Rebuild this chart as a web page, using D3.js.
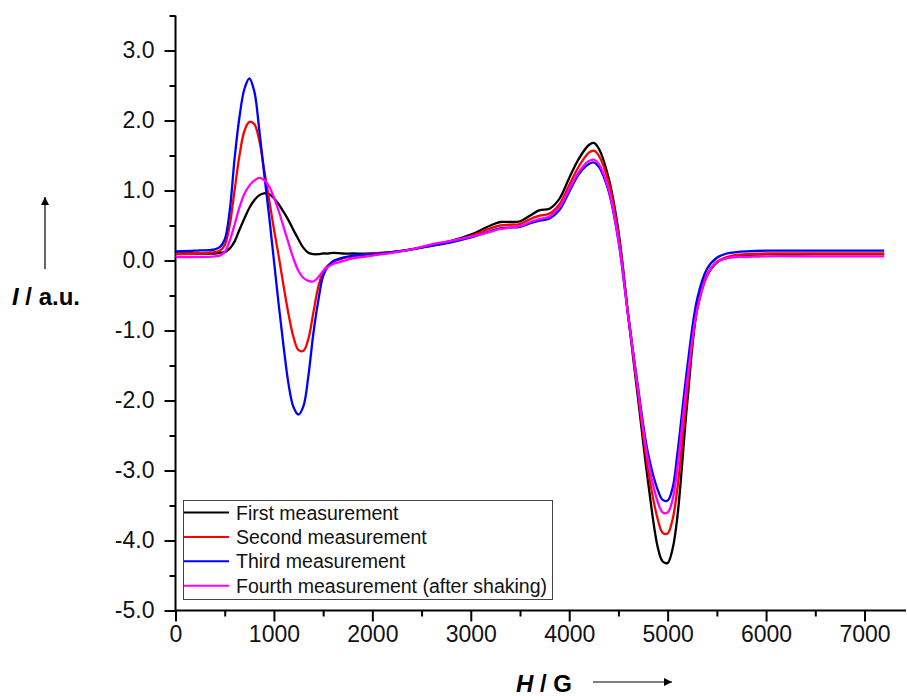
<!DOCTYPE html>
<html><head><meta charset="utf-8">
<script src="https://cdn.jsdelivr.net/npm/d3@7"></script>
<style>body{margin:0;background:#fff}svg{display:block}text{font-family:Arial,"Liberation Sans",sans-serif}</style>
</head><body><svg id="c" width="907" height="696"></svg>
<script>
const fieldH = [0,200,400,450,500,550,600,650,700,750,800,850,900,950,1000,1050,1100,1150,1200,1250,1300,1350,1400,1450,1500,1550,1600,1700,1800,2000,2200,2400,2600,2800,3000,3200,3300,3400,3500,3600,3700,3800,3900,4000,4100,4200,4250,4300,4400,4500,4600,4700,4800,4900,4950,5000,5050,5100,5200,5300,5400,5500,5600,5700,5800,6000,6500,7000,7200];
const firstMeas = [0.10,0.10,0.10,0.11,0.12,0.17,0.27,0.44,0.60,0.75,0.86,0.93,0.96,0.95,0.89,0.80,0.69,0.57,0.43,0.30,0.18,0.11,0.09,0.09,0.10,0.10,0.11,0.10,0.10,0.10,0.12,0.16,0.22,0.28,0.37,0.50,0.55,0.55,0.56,0.64,0.72,0.74,0.88,1.18,1.46,1.65,1.68,1.60,1.18,0.42,-0.80,-1.98,-3.15,-4.10,-4.30,-4.32,-4.12,-3.65,-2.02,-0.70,-0.22,-0.03,0.04,0.07,0.08,0.09,0.09,0.09,0.09];
const secondMeas = [0.09,0.10,0.12,0.14,0.22,0.50,1.00,1.50,1.85,1.98,1.95,1.72,1.30,0.88,0.45,0.05,-0.38,-0.78,-1.10,-1.28,-1.29,-1.12,-0.75,-0.38,-0.16,-0.07,-0.02,0.03,0.06,0.10,0.12,0.16,0.21,0.27,0.35,0.46,0.50,0.51,0.52,0.59,0.64,0.67,0.80,1.08,1.35,1.54,1.57,1.50,1.12,0.38,-0.78,-1.90,-2.98,-3.70,-3.89,-3.90,-3.70,-3.25,-1.85,-0.68,-0.20,-0.02,0.05,0.08,0.09,0.10,0.10,0.10,0.10];
const thirdMeas = [0.13,0.14,0.16,0.19,0.30,0.70,1.45,2.05,2.45,2.60,2.42,1.88,1.25,0.65,0.00,-0.65,-1.25,-1.78,-2.10,-2.20,-2.08,-1.65,-1.05,-0.58,-0.22,-0.08,-0.01,0.04,0.07,0.09,0.12,0.16,0.21,0.26,0.33,0.42,0.46,0.47,0.48,0.53,0.57,0.60,0.72,0.98,1.24,1.38,1.40,1.34,0.99,0.28,-0.80,-1.82,-2.75,-3.28,-3.42,-3.43,-3.25,-2.75,-1.52,-0.55,-0.12,0.04,0.10,0.12,0.13,0.14,0.14,0.14,0.14];
const fourthMeas = [0.05,0.05,0.06,0.07,0.12,0.28,0.51,0.76,0.95,1.07,1.14,1.18,1.15,1.06,0.90,0.70,0.47,0.24,0.02,-0.15,-0.25,-0.29,-0.30,-0.24,-0.15,-0.09,-0.05,-0.01,0.03,0.07,0.11,0.16,0.23,0.28,0.34,0.41,0.45,0.47,0.49,0.55,0.59,0.63,0.76,1.02,1.27,1.42,1.44,1.38,1.02,0.30,-0.80,-1.86,-2.85,-3.45,-3.60,-3.60,-3.42,-2.95,-1.70,-0.70,-0.22,-0.02,0.03,0.05,0.05,0.06,0.06,0.06,0.06];
const seriesNames = ["First measurement","Second measurement","Third measurement","Fourth measurement (after shaking)"];
const seriesColors = ["#000000","#ff0000","#0000ff","#ff00ff"];
const xTicks = [0,1000,2000,3000,4000,5000,6000,7000];
const yTicks = [-5,-4,-3,-2,-1,0,1,2,3];

const svg = d3.select("#c");
const x = d3.scaleLinear().domain([0,7000]).range([175.5,864.5]);
const y = d3.scaleLinear().domain([-5,3.5]).range([610.5,15.5]);
const allSeries = [firstMeas,secondMeas,thirdMeas,fourthMeas];

// axes
const ax = svg.append("g").attr("transform","translate(0,610.5)")
  .call(d3.axisBottom(x).tickValues(xTicks).tickFormat(d=>d).tickSize(11).tickSizeOuter(0).tickPadding(4));
ax.select(".domain").remove();
ax.selectAll(".tick line").attr("stroke","#000").attr("stroke-width",2);
ax.selectAll(".tick text").attr("font-size",23).attr("fill","#111");
const axm = svg.append("g").attr("transform","translate(0,610.5)")
  .call(d3.axisBottom(x).tickValues(d3.range(500,7500,1000)).tickFormat("").tickSize(6).tickSizeOuter(0));
axm.select(".domain").remove();
axm.selectAll(".tick line").attr("stroke","#000").attr("stroke-width",2);

const ay = svg.append("g").attr("transform","translate(175.5,0)")
  .call(d3.axisLeft(y).tickValues(yTicks).tickFormat(d=>d.toFixed(1)).tickSize(11).tickSizeOuter(0).tickPadding(10));
ay.select(".domain").remove();
ay.selectAll(".tick line").attr("stroke","#000").attr("stroke-width",2);
ay.selectAll(".tick text").attr("font-size",23).attr("fill","#111");
const aym = svg.append("g").attr("transform","translate(175.5,0)")
  .call(d3.axisLeft(y).tickValues(d3.range(-4.5,3.6,1)).tickFormat("").tickSize(6).tickSizeOuter(0));
aym.select(".domain").remove();
aym.selectAll(".tick line").attr("stroke","#000").attr("stroke-width",2);

svg.append("line").attr("x1",175.5).attr("x2",175.5).attr("y1",y(3.5)).attr("y2",611.5).attr("stroke","#000").attr("stroke-width",2);
svg.append("line").attr("x1",174.5).attr("x2",906).attr("y1",610.5).attr("y2",610.5).attr("stroke","#000").attr("stroke-width",2);

// lines
const line = d3.line().x((d,i)=>x(fieldH[i])).y(d=>y(d)).curve(d3.curveCatmullRom.alpha(0.5));
allSeries.forEach((s,k)=>{
  svg.append("path").datum(s).attr("d",line).attr("fill","none")
    .attr("stroke",seriesColors[k]).attr("stroke-width",2.3).attr("stroke-linejoin","round");
});

// legend
const lg = svg.append("g");
lg.append("rect").attr("x",183.5).attr("y",500.5).attr("width",369).attr("height",99)
  .attr("fill","#fff").attr("stroke","#444").attr("stroke-width",1);
seriesNames.forEach((n,k)=>{
  const yy = 512.5 + k*24.4;
  lg.append("line").attr("x1",184).attr("x2",229).attr("y1",yy).attr("y2",yy)
    .attr("stroke",seriesColors[k]).attr("stroke-width",2);
  lg.append("text").attr("x",236).attr("y",yy+7).attr("font-size",19.5).attr("fill","#111").text(n);
});

// axis titles
const yt = svg.append("text").attr("x",12).attr("y",305).attr("font-size",24).attr("font-weight","bold").attr("fill","#000");
yt.append("tspan").attr("font-style","italic").text("I");
yt.append("tspan").text(" / a.u.");
const defs = svg.append("defs");
defs.append("marker").attr("id","ah").attr("viewBox","0 0 10 10").attr("refX",10).attr("refY",5)
  .attr("markerWidth",15).attr("markerHeight",8).attr("markerUnits","userSpaceOnUse").attr("orient","auto")
  .append("path").attr("d","M0,0L10,5L0,10Z").attr("fill","#000");
svg.append("line").attr("x1",45).attr("x2",45).attr("y1",269).attr("y2",197).attr("stroke","#000").attr("stroke-width",1.2).attr("marker-end","url(#ah)");

const xt = svg.append("text").attr("x",516).attr("y",692).attr("font-size",24).attr("font-weight","bold").attr("fill","#000");
xt.append("tspan").attr("font-style","italic").text("H");
xt.append("tspan").text(" / G");
svg.append("line").attr("x1",593).attr("x2",672).attr("y1",682).attr("y2",682).attr("stroke","#000").attr("stroke-width",1.2).attr("marker-end","url(#ah)");
</script></body></html>
